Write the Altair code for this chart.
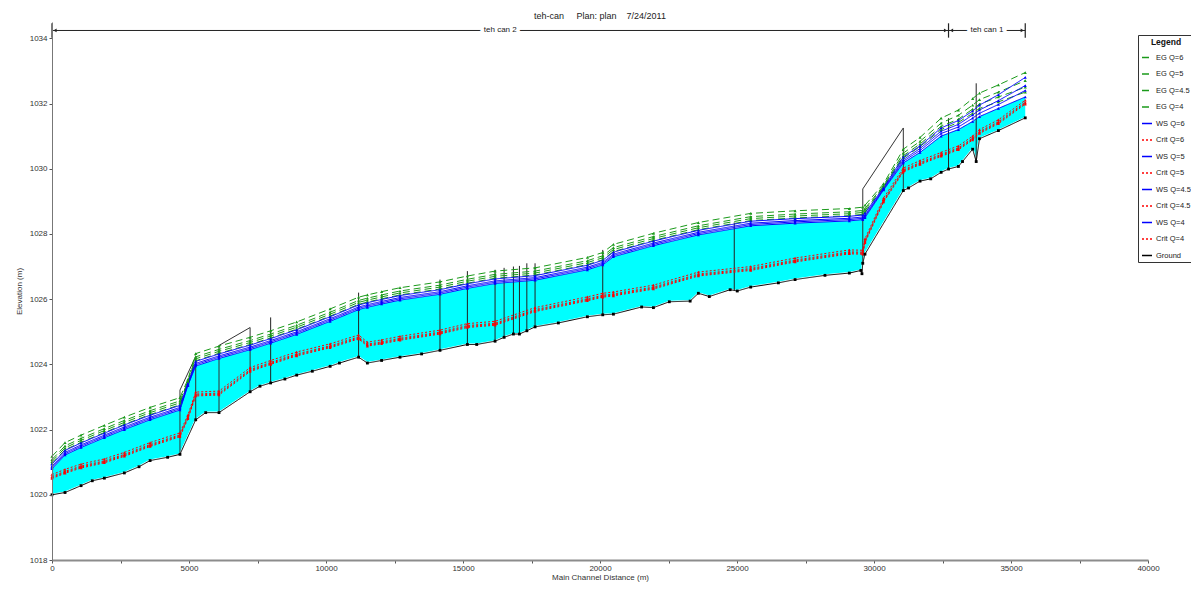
import altair as alt
import pandas as pd

# ---------------- data ----------------
ground_station = [0, 475, 1060, 1470, 1910, 2640, 3175, 3580, 4220, 4670, 5245, 5610, 6095,
                  7230, 7590, 7980, 8500, 8930, 9500, 10150, 10490, 11190, 11510, 12030, 12700,
                  13490, 14160, 15160, 15500, 16170, 16500, 16840, 17060, 17330, 17630, 18480,
                  19540, 20100, 20490, 21520, 21950, 22530, 23290, 23590, 23990, 24750, 25010,
                  25500, 26510, 27120, 28210, 29100, 29520, 29560, 29590, 29670, 31070, 31260,
                  31680, 32070, 32450, 32720, 33080, 33230, 33600, 33730, 33850, 34540, 35520]
ground_elev = [1020.00, 1020.07, 1020.28, 1020.43, 1020.51, 1020.67, 1020.86, 1021.05, 1021.15,
               1021.24, 1022.30, 1022.52, 1022.52, 1023.16, 1023.33, 1023.43, 1023.55, 1023.67,
               1023.79, 1023.94, 1024.04, 1024.22, 1024.04, 1024.12, 1024.22, 1024.32, 1024.43,
               1024.61, 1024.61, 1024.71, 1024.83, 1024.93, 1024.93, 1025.03, 1025.15, 1025.27,
               1025.46, 1025.52, 1025.54, 1025.76, 1025.74, 1025.92, 1025.94, 1026.18, 1026.08,
               1026.29, 1026.25, 1026.37, 1026.50, 1026.60, 1026.73, 1026.80, 1026.88, 1026.78,
               1027.10, 1027.38, 1029.33, 1029.41, 1029.62, 1029.69, 1029.89, 1029.99, 1030.07,
               1030.22, 1030.60, 1030.22, 1030.92, 1031.17, 1031.56]

prof_station = [0, 475, 1060, 1910, 2640, 3580, 4670, 4960, 5245, 6095, 7230, 7980, 8930, 10150,
                11190, 11510, 12030, 12700, 14160, 15160, 16170, 17630, 19540, 20100, 20490,
                21950, 23590, 25500, 27120, 29100, 29590, 29670, 30350, 31070, 31680, 32450,
                33080, 33600, 33850, 34540, 35520]

ws_q4 = [1020.80, 1021.22, 1021.45, 1021.75, 1022.00, 1022.30, 1022.60, 1023.35, 1023.95, 1024.18,
         1024.45, 1024.65, 1024.92, 1025.32, 1025.68, 1025.75, 1025.85, 1025.97, 1026.15, 1026.33,
         1026.48, 1026.58, 1026.90, 1027.05, 1027.30, 1027.64, 1027.97, 1028.25, 1028.33, 1028.40,
         1028.44, 1028.50, 1029.35, 1030.18, 1030.50, 1031.00, 1031.20, 1031.45, 1031.60, 1031.85,
         1032.20]
ws_q45 = [1020.84, 1021.26, 1021.49, 1021.79, 1022.04, 1022.34, 1022.64, 1023.37, 1023.99, 1024.22,
          1024.49, 1024.69, 1024.96, 1025.36, 1025.72, 1025.79, 1025.89, 1026.01, 1026.19, 1026.37,
          1026.52, 1026.62, 1026.94, 1027.09, 1027.34, 1027.68, 1028.01, 1028.29, 1028.37, 1028.44,
          1028.48, 1028.54, 1029.37, 1030.23, 1030.56, 1031.08, 1031.28, 1031.55, 1031.70, 1031.97,
          1032.40]
ws_q5 = [1020.88, 1021.30, 1021.53, 1021.83, 1022.08, 1022.38, 1022.68, 1023.39, 1024.03, 1024.26,
         1024.53, 1024.73, 1025.00, 1025.40, 1025.76, 1025.83, 1025.93, 1026.05, 1026.23, 1026.41,
         1026.56, 1026.66, 1026.98, 1027.13, 1027.38, 1027.72, 1028.05, 1028.33, 1028.41, 1028.48,
         1028.52, 1028.58, 1029.39, 1030.28, 1030.62, 1031.15, 1031.36, 1031.65, 1031.80, 1032.09,
         1032.55]
ws_q6 = [1020.94, 1021.36, 1021.59, 1021.89, 1022.14, 1022.44, 1022.74, 1023.42, 1024.09, 1024.32,
         1024.59, 1024.79, 1025.06, 1025.46, 1025.82, 1025.89, 1025.99, 1026.11, 1026.29, 1026.47,
         1026.62, 1026.72, 1027.04, 1027.19, 1027.44, 1027.78, 1028.11, 1028.39, 1028.47, 1028.54,
         1028.58, 1028.64, 1029.42, 1030.36, 1030.70, 1031.25, 1031.48, 1031.77, 1031.95, 1032.27,
         1032.80]
eg_q4 = [1020.96, 1021.38, 1021.61, 1021.91, 1022.16, 1022.46, 1022.76, 1023.43, 1024.11, 1024.34,
         1024.61, 1024.81, 1025.08, 1025.48, 1025.84, 1025.91, 1026.01, 1026.13, 1026.31, 1026.49,
         1026.64, 1026.74, 1027.06, 1027.21, 1027.46, 1027.80, 1028.13, 1028.41, 1028.49, 1028.56,
         1028.60, 1028.66, 1029.43, 1030.33, 1030.68, 1031.20, 1031.42, 1031.70, 1031.85, 1032.05,
         1032.35]
eg_q45 = [1021.02, 1021.44, 1021.67, 1021.97, 1022.22, 1022.52, 1022.82, 1023.46, 1024.17, 1024.40,
          1024.67, 1024.87, 1025.14, 1025.54, 1025.90, 1025.97, 1026.07, 1026.19, 1026.37, 1026.55,
          1026.70, 1026.80, 1027.12, 1027.27, 1027.52, 1027.86, 1028.19, 1028.47, 1028.55, 1028.62,
          1028.66, 1028.72, 1029.46, 1030.40, 1030.76, 1031.30, 1031.52, 1031.83, 1031.98, 1032.20,
          1032.50]
eg_q5 = [1021.08, 1021.50, 1021.73, 1022.03, 1022.28, 1022.58, 1022.88, 1023.49, 1024.23, 1024.46,
         1024.73, 1024.93, 1025.20, 1025.60, 1025.96, 1026.03, 1026.13, 1026.25, 1026.43, 1026.61,
         1026.76, 1026.86, 1027.18, 1027.33, 1027.58, 1027.92, 1028.25, 1028.53, 1028.61, 1028.68,
         1028.72, 1028.78, 1029.49, 1030.48, 1030.84, 1031.40, 1031.64, 1031.95, 1032.12, 1032.35,
         1032.70]
eg_q6 = [1021.18, 1021.60, 1021.83, 1022.13, 1022.38, 1022.68, 1022.98, 1023.54, 1024.33, 1024.56,
         1024.83, 1025.03, 1025.30, 1025.70, 1026.06, 1026.13, 1026.23, 1026.35, 1026.53, 1026.71,
         1026.86, 1026.96, 1027.28, 1027.43, 1027.68, 1028.02, 1028.35, 1028.63, 1028.71, 1028.78,
         1028.82, 1028.88, 1029.54, 1030.60, 1030.96, 1031.55, 1031.80, 1032.15, 1032.32, 1032.57,
         1032.95]
crit_q6 = [1020.62, 1020.78, 1020.94, 1021.10, 1021.30, 1021.60, 1021.90, 1022.45, 1023.15, 1023.18,
           1023.90, 1024.12, 1024.38, 1024.63, 1024.90, 1024.68, 1024.75, 1024.86, 1025.05, 1025.25,
           1025.32, 1025.74, 1026.07, 1026.18, 1026.22, 1026.43, 1026.83, 1027.00, 1027.26, 1027.51,
           1027.50, 1027.85, 1029.10, 1030.02, 1030.25, 1030.50, 1030.70, 1031.00, 1031.20, 1031.50,
           1032.10]
crit_q5 = [1020.56, 1020.72, 1020.88, 1021.04, 1021.24, 1021.54, 1021.84, 1022.39, 1023.09, 1023.12,
           1023.84, 1024.06, 1024.32, 1024.57, 1024.84, 1024.62, 1024.69, 1024.80, 1024.99, 1025.19,
           1025.26, 1025.68, 1026.01, 1026.12, 1026.16, 1026.37, 1026.77, 1026.94, 1027.20, 1027.45,
           1027.44, 1027.79, 1029.04, 1029.96, 1030.19, 1030.44, 1030.64, 1030.94, 1031.14, 1031.44,
           1032.04]
crit_q45 = [1020.53, 1020.69, 1020.85, 1021.01, 1021.21, 1021.51, 1021.81, 1022.36, 1023.06, 1023.09,
            1023.81, 1024.03, 1024.29, 1024.54, 1024.81, 1024.59, 1024.66, 1024.77, 1024.96, 1025.16,
            1025.23, 1025.65, 1025.98, 1026.09, 1026.13, 1026.34, 1026.74, 1026.91, 1027.17, 1027.42,
            1027.41, 1027.76, 1029.01, 1029.93, 1030.16, 1030.41, 1030.61, 1030.91, 1031.11, 1031.41,
            1032.01]
crit_q4 = [1020.50, 1020.66, 1020.82, 1020.98, 1021.18, 1021.48, 1021.78, 1022.33, 1023.03, 1023.06,
           1023.78, 1024.00, 1024.26, 1024.51, 1024.78, 1024.56, 1024.63, 1024.74, 1024.93, 1025.13,
           1025.20, 1025.62, 1025.95, 1026.06, 1026.10, 1026.31, 1026.71, 1026.88, 1027.14, 1027.39,
           1027.38, 1027.73, 1028.98, 1029.90, 1030.13, 1030.38, 1030.58, 1030.88, 1031.08, 1031.38,
           1031.98]

# structures (bridges / inline structures)
struct_station = [7980, 11190, 14160, 15160, 16170, 16500, 16840, 17060, 17330, 17630, 20100,
                  24900, 32720, 33730]
struct_base = [1023.43, 1024.22, 1024.43, 1024.61, 1024.71, 1024.83, 1024.93, 1024.93, 1025.03,
               1025.15, 1025.52, 1026.27, 1029.99, 1030.22]
struct_top = [1025.44, 1026.20, 1026.60, 1026.86, 1026.90, 1026.96, 1027.00, 1027.02, 1027.10,
              1027.10, 1027.51, 1028.35, 1031.55, 1032.62]

deck_id = ["A", "A", "A", "A", "B", "B", "B", "B", "C", "C", "C", "C"]
deck_order = [0, 1, 2, 3, 0, 1, 2, 3, 0, 1, 2, 3]
deck_station = [4670, 4670, 5245, 5245, 6095, 6095, 7230, 7230, 29590, 29590, 31070, 31070]
deck_elev = [1021.24, 1023.21, 1024.24, 1022.30, 1022.52, 1024.58, 1025.13, 1023.16,
             1027.10, 1029.38, 1031.25, 1029.33]

reach_names = ["teh can 2", "teh can 1"]
reach_start = [0, 32720]
reach_end = [32720, 35520]
reach_label_elev = 1034.24

series_order = ["EG Q=6", "EG Q=5", "EG Q=4.5", "EG Q=4", "WS Q=6", "Crit Q=6", "WS Q=5",
                "Crit Q=5", "WS Q=4.5", "Crit Q=4.5", "WS Q=4", "Crit Q=4", "Ground"]

# ---------------- tables ----------------
profiles = {
    "EG Q=6": eg_q6, "EG Q=5": eg_q5, "EG Q=4.5": eg_q45, "EG Q=4": eg_q4,
    "WS Q=6": ws_q6, "Crit Q=6": crit_q6, "WS Q=5": ws_q5, "Crit Q=5": crit_q5,
    "WS Q=4.5": ws_q45, "Crit Q=4.5": crit_q45, "WS Q=4": ws_q4, "Crit Q=4": crit_q4,
}
rows = []
for name, vals in profiles.items():
    assert len(vals) == len(prof_station), name
    for s, v in zip(prof_station, vals):
        rows.append({"station": s, "elev": v, "series": name})
assert len(ground_station) == len(ground_elev)
for s, v in zip(ground_station, ground_elev):
    rows.append({"station": s, "elev": v, "series": "Ground"})
lines_df = pd.DataFrame(rows)
lines_df["kind"] = lines_df["series"].str.split(" ").str[0]

ws_fill_df = pd.DataFrame({"station": prof_station, "elev": ws_q4})
ground_df = pd.DataFrame({"station": ground_station, "elev": ground_elev})
struct_df = pd.DataFrame({"station": struct_station, "elev": struct_base, "elev2": struct_top})
deck_df = pd.DataFrame({"station": deck_station, "elev": deck_elev, "id": deck_id, "o": deck_order})
reach_df = pd.DataFrame({"name": reach_names, "start": reach_start, "end": reach_end})
reach_df["mid"] = (reach_df["start"] + reach_df["end"]) / 2
bounds_df = pd.DataFrame({"station": sorted(set(reach_start + reach_end))})

def kind_of(n):
    return n.split(" ")[0]

col_map = {"EG": "#1a9a1a", "WS": "#0000ff", "Crit": "#ff0000", "Ground": "#000000"}
dash_map = {"EG": [7, 4], "WS": [1, 0], "Crit": [2, 2], "Ground": [1, 0]}
shape_map = {"EG": "triangle-up", "WS": "triangle-up", "Crit": "triangle-up", "Ground": "square"}
size_map = {"EG": 10, "WS": 8, "Crit": 24, "Ground": 14}

FONT = "Liberation Sans"

x_axis = alt.Axis(values=list(range(0, 40001, 2500)),
                  labelExpr="datum.value % 5000 == 0 ? datum.label : ''",
                  format="d", tickSize=3, labelFontSize=8, titleFontSize=8,
                  titleFontWeight="normal", domainColor="#8c8c8c", domainWidth=2,
                  tickColor="#555555", labelColor="#333333", titleColor="#333333",
                  labelPadding=1, titlePadding=1, grid=False, zindex=1,
                  labelFlush=False)
y_axis = alt.Axis(values=list(range(1018, 1035)),
                  labelExpr="datum.value % 2 == 0 ? datum.label : ''",
                  format="d", tickSize=3, labelFontSize=8, titleFontSize=8,
                  titleFontWeight="normal", domainColor="#777777", tickColor="#555555",
                  labelColor="#333333", titleColor="#333333", labelPadding=2,
                  titlePadding=6, grid=False, zindex=1)
x_scale = alt.Scale(domain=[0, 40000], nice=False, zero=False)
y_scale = alt.Scale(domain=[1018, 1034.5], nice=False, zero=False)

def X(f):
    return alt.X(f"{f}:Q", scale=x_scale, axis=x_axis, title="Main Channel Distance (m)")

def Y(f):
    return alt.Y(f"{f}:Q", scale=y_scale, axis=y_axis, title="Elevation (m)")

legend = alt.Legend(title="Legend", orient="none", legendX=1086, legendY=13,
                    symbolType="stroke", symbolSize=100, symbolStrokeWidth=1.5,
                    labelFontSize=7.5, titleFontSize=8.5, titleFontWeight="bold",
                    titleAnchor="middle", strokeColor="#333333", fillColor="white",
                    padding=3, rowPadding=6.5, labelOffset=3, labelColor="#222222",
                    titleColor="#111111", titlePadding=5)

color_enc = alt.Color("series:N", legend=legend,
                      scale=alt.Scale(domain=series_order,
                                      range=[col_map[kind_of(n)] for n in series_order]))
dash_enc = alt.StrokeDash("series:N", legend=legend,
                          scale=alt.Scale(domain=series_order,
                                          range=[dash_map[kind_of(n)] for n in series_order]))

water = alt.Chart(ws_fill_df).mark_area(color="#00ffff", opacity=1).encode(
    x=X("station"), y=Y("elev"), y2=alt.datum(1018))
mask = alt.Chart(ground_df).mark_area(color="white", opacity=1, stroke="white",
                                      strokeWidth=2).encode(
    x=X("station"), y=Y("elev"), y2=alt.datum(1018))

struct_rules = alt.Chart(struct_df).mark_rule(color="#222222", strokeWidth=1).encode(
    x=X("station"), y=Y("elev"), y2=alt.Y2("elev2"))
decks = alt.Chart(deck_df).mark_line(color="#333333", strokeWidth=1).encode(
    x=X("station"), y=Y("elev"), detail="id:N", order="o:Q")

lines = alt.Chart(lines_df).mark_line(strokeWidth=1).encode(
    x=X("station"), y=Y("elev"), color=color_enc, strokeDash=dash_enc)

points = alt.Chart(lines_df).mark_point(filled=True, opacity=1).encode(
    x=X("station"), y=Y("elev"),
    color=alt.Color("series:N", legend=None,
                    scale=alt.Scale(domain=series_order,
                                    range=[col_map[kind_of(n)] for n in series_order])),
    shape=alt.Shape("kind:N", legend=None,
                    scale=alt.Scale(domain=list(shape_map), range=list(shape_map.values()))),
    size=alt.Size("kind:N", legend=None,
                  scale=alt.Scale(domain=list(size_map), range=list(size_map.values()))))

reach_line = alt.Chart(reach_df).mark_rule(color="#222222", strokeWidth=1).encode(
    x=X("start"), x2=alt.X2("end"), y=alt.datum(reach_label_elev))
reach_ticks = alt.Chart(bounds_df).mark_rule(color="#222222", strokeWidth=1.2).encode(
    x=X("station"), y=alt.datum(1034.02), y2=alt.datum(1034.46))
arrow_l = alt.Chart(reach_df).mark_point(shape="triangle-left", filled=True, size=14,
                                         color="#222222", opacity=1, xOffset=3).encode(
    x=X("start"), y=alt.datum(reach_label_elev))
arrow_r = alt.Chart(reach_df).mark_point(shape="triangle-right", filled=True, size=14,
                                         color="#222222", opacity=1, xOffset=-3).encode(
    x=X("end"), y=alt.datum(reach_label_elev))
reach_bg = alt.Chart(reach_df).mark_text(fontSize=8, font=FONT, color="white", stroke="white",
                                         strokeWidth=7).encode(
    x=X("mid"), y=alt.datum(reach_label_elev), text="name:N")
reach_txt = alt.Chart(reach_df).mark_text(fontSize=8, font=FONT, color="#222222").encode(
    x=X("mid"), y=alt.datum(reach_label_elev), text="name:N")

chart = alt.layer(
    water, mask, struct_rules, decks, lines, points,
    reach_line, reach_ticks, arrow_l, arrow_r, reach_bg, reach_txt
).properties(
    width=1096, height=538,
    title=alt.TitleParams("teh-can\u00a0\u00a0\u00a0\u00a0\u00a0Plan: plan\u00a0\u00a0\u00a0\u00a07/24/2011",
                          fontSize=9, font=FONT, fontWeight="normal", color="#222222",
                          anchor="middle", offset=1),
    autosize=alt.AutoSizeParams(type="none"),
    padding={"left": 44, "top": 14, "right": 43, "bottom": 23},
).configure(font=FONT).configure_view(stroke=None)

chart.save("out.html", embed_options={"renderer": "svg", "actions": False})
